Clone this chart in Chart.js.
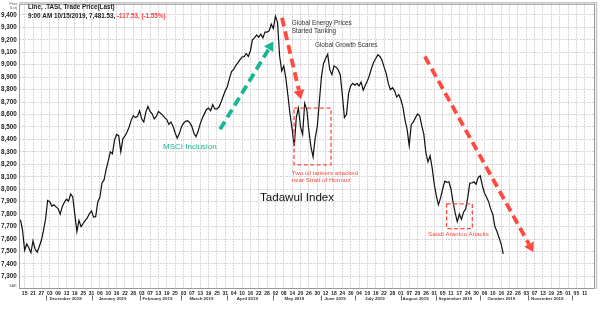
<!DOCTYPE html>
<html><head><meta charset="utf-8">
<script src="https://cdn.jsdelivr.net/npm/chart.js@4.4.1/dist/chart.umd.min.js"></script>
<style>html,body{margin:0;padding:0;background:#fff;}canvas{display:block;}</style>
</head><body>
<canvas id="c" width="608" height="326"></canvas>
<script>
// ---- DATA ----
// TASI daily close, one value per trading day, starting ~13 Nov 2018, ending 15 Oct 2019
const closes = [
7755,7670,7510,7560,7530,7490,7585,7520,7495,7540,
7590,7665,7760,7910,7900,7865,7875,7858,7845,7800,
7860,7895,7920,7905,7962,7940,7800,7660,7750,7700,
7725,7750,7770,7805,7825,7776,7780,7900,7935,8050,
8075,8160,8228,8300,8285,8395,8440,8430,8300,8405,
8428,8460,8500,8555,8590,8575,8585,8630,8565,8540,
8620,8665,8625,8605,8565,8585,8625,8610,8595,8575,
8560,8520,8540,8505,8454,8410,8445,8500,8530,8545,
8550,8535,8505,8450,8422,8465,8525,8570,8605,8640,
8652,8630,8680,8645,8645,8660,8700,8747,8790,8825,
8890,8945,8962,8992,9015,9039,9062,9065,9090,9066,
9110,9200,9215,9239,9220,9245,9215,9262,9262,9272,
9325,9290,9390,9340,9070,8950,8990,8890,8750,8600,
8480,8345,8580,8650,8500,8440,8690,8640,8470,8340,
8260,8410,8500,8700,8900,9010,9050,9084,8960,8920,
8990,8980,8960,8920,8760,8575,8600,8770,8830,8850,
8835,8850,8830,8860,8795,8835,8870,8915,8973,9020,
9050,9080,9066,9035,8980,8930,8850,8800,8815,8790,
8740,8760,8720,8660,8555,8480,8350,8520,8540,8575,
8605,8590,8510,8440,8290,8220,8270,8170,8040,7945,
7875,7930,8000,8065,8055,8060,8000,7895,7810,7740,
7800,7760,7815,7840,7930,8050,8050,8060,8040,8095,
8108,8030,7970,7935,7900,7840,7800,7700,7660,7610,
7560,7481.53
];
// x-axis day labels, one every 4 trading days
const dayTickLabels = ['15','21','27','03','09','13','19','25','31','06','10','16','22','28','03','07','13','19','25','03','07','13','19','25','31','04','10','16','22','28','02','08','14','20','26','30','12','18','24','30','04','10','16','22','28','01','07','20','26','01','05','11','17','24','30','06','10','16','22','28','03','07','13','19','25','01','05','11'];
const firstTickIndex = 2;
const tickEvery = 4;
const monthNames = ['December 2018','January 2019','February 2019','March 2019','April 2019','May 2019','June 2019','July 2019','August 2019','September 2019','October 2019','November 2019'];
const monthBoundaryIdx = [12,34,57,77,99,121,144,160,182,199,220,243,264];
const yTickValues = [7300,7400,7500,7600,7700,7800,7900,8000,8100,8200,8300,8400,8500,8600,8700,8800,8900,9000,9100,9200,9300,9400];
const headerLine1 = 'Line, .TASI, Trade Price(Last)';
const headerLine2a = '9:00 AM 10/15/2019, 7,481.53, ';
const headerLine2b = '-117.53, (-1.55%)';

const FONT = '"Liberation Sans", Arial, Helvetica, sans-serif';
Chart.defaults.font.family = FONT;

const points = closes.map((v, i) => ({x: i, y: v}));

function drawArrow(ctx, x1, y1, x2, y2, color, width, dash, headLen, headW) {
  const a = Math.atan2(y2 - y1, x2 - x1);
  const bx = x2 - headLen * Math.cos(a), by = y2 - headLen * Math.sin(a);
  ctx.save();
  ctx.strokeStyle = color; ctx.lineWidth = width; ctx.setLineDash(dash); ctx.lineCap = 'butt';
  ctx.beginPath(); ctx.moveTo(x1, y1); ctx.lineTo(bx, by); ctx.stroke();
  ctx.setLineDash([]); ctx.fillStyle = color;
  ctx.beginPath();
  ctx.moveTo(x2, y2);
  ctx.lineTo(bx + headW * Math.sin(a), by - headW * Math.cos(a));
  ctx.lineTo(bx - headW * Math.sin(a), by + headW * Math.cos(a));
  ctx.closePath(); ctx.fill();
  ctx.restore();
}

const annotate = {
  id: 'annotate',
  afterDraw(chart) {
    const ctx = chart.ctx, xs = chart.scales.x, ys = chart.scales.y, ca = chart.chartArea;
    const P = (i, v) => [xs.getPixelForValue(i), ys.getPixelForValue(v)];
    ctx.save();
    // frame
    ctx.strokeStyle = '#9a9a9a'; ctx.lineWidth = 1; ctx.setLineDash([]);
    ctx.strokeRect(ca.left + 0.5, ca.top + 0.5, ca.right - ca.left - 1, ca.bottom - ca.top - 1);
    ctx.strokeStyle = '#c8c8c8'; ctx.lineWidth = 1.5;
    ctx.beginPath(); ctx.moveTo(ca.left, ca.top - 1); ctx.lineTo(ca.right + 1.5, ca.top - 1); ctx.lineTo(ca.right + 1.5, ca.bottom); ctx.stroke();

    // header
    ctx.textBaseline = 'middle'; ctx.textAlign = 'left';
    ctx.font = 'bold 6.3px ' + FONT; ctx.fillStyle = '#222';
    ctx.fillText(headerLine1, 28, 7.5);
    ctx.fillText(headerLine2a, 28, 15.8);
    const w = ctx.measureText(headerLine2a).width;
    ctx.fillStyle = '#ff3b3b';
    ctx.fillText(headerLine2b, 28 + w, 15.8);

    // tiny axis captions
    ctx.font = '3.6px ' + FONT; ctx.fillStyle = '#555'; ctx.textAlign = 'center';
    ctx.fillText('Price', 13.5, 3.5);
    ctx.fillText('(Lst)', 13.5, 8);
    ctx.fillText('SAR', 13, 286);

    // month row
    ctx.font = 'bold 4.4px ' + FONT; ctx.fillStyle = '#333'; ctx.textAlign = 'center';
    monthNames.forEach((m, k) => {
      const xm = (xs.getPixelForValue(monthBoundaryIdx[k]) + xs.getPixelForValue(monthBoundaryIdx[k + 1])) / 2 - 3;
      ctx.fillText(m, xm, 298.5);
    });
    ctx.strokeStyle = '#444'; ctx.lineWidth = 0.8;
    monthBoundaryIdx.forEach(b => {
      const xb = Math.round(xs.getPixelForValue(b)) + 0.5;
      ctx.beginPath(); ctx.moveTo(xb, 295.5); ctx.lineTo(xb, 300.5); ctx.stroke();
    });

    // dashed boxes
    ctx.strokeStyle = '#ff4a3d'; ctx.lineWidth = 1.3; ctx.setLineDash([4, 2.5]);
    let [bx1, by1] = P(130.9, 8651), [bx2, by2] = P(148.6, 8196);
    ctx.strokeRect(bx1, by1, bx2 - bx1, by2 - by1);
    [bx1, by1] = P(203.9, 7883); [bx2, by2] = P(216.2, 7683);
    ctx.strokeRect(bx1, by1, bx2 - bx1, by2 - by1);
    ctx.setLineDash([]);

    // arrows
    let a = P(95.5, 8481), b = P(121.0, 9186);
    drawArrow(ctx, a[0], a[1], b[0], b[1], '#19b596', 3.8, [9, 5], 9, 5.5);
    a = P(125.1, 9377); b = P(134.2, 8723);
    drawArrow(ctx, a[0], a[1], b[0], b[1], '#ff4a3d', 3.8, [9, 5], 9, 5.5);
    a = P(193.5, 9066); b = P(245.4, 7496);
    drawArrow(ctx, a[0], a[1], b[0], b[1], '#ff4a3d', 3.8, [9, 5], 9, 5.5);

    // texts
    ctx.textAlign = 'left'; ctx.textBaseline = 'middle';
    ctx.font = '6.4px ' + FONT; ctx.fillStyle = '#333';
    let t = P(129.8, 9332); ctx.fillText('Global Energy Prices', t[0], t[1]);
    ctx.fillText('Started Tanking', t[0], t[1] + 7.7);
    t = P(140.9, 9153); ctx.fillText('Global Growth Scares', t[0], t[1]);
    ctx.font = '8px ' + FONT; ctx.fillStyle = '#19b596';
    t = P(68.2, 8342); ctx.fillText('MSCI Inclusion', t[0], t[1]);
    ctx.font = '11.6px ' + FONT; ctx.fillStyle = '#111';
    t = P(114.6, 7935); ctx.fillText('Tadawul Index', t[0], t[1]);
    ctx.font = '6.2px ' + FONT; ctx.fillStyle = '#ff4a3d';
    t = P(129.8, 8130); ctx.fillText('Two oil tankers attacked', t[0], t[1]);
    ctx.fillText('near Strait of Hormuz', t[0], t[1] + 7.7);
    t = P(195.0, 7635); ctx.fillText('Saudi Aramco Attacks', t[0], t[1]);
    ctx.restore();
  }
};

new Chart(document.getElementById('c'), {
  type: 'line',
  data: { datasets: [{ data: points, borderColor: '#111', borderWidth: 1.2, pointRadius: 0, tension: 0, fill: false }] },
  options: {
    responsive: false, animation: false, devicePixelRatio: 1,
    layout: { padding: { left: 1, right: 13, top: 2, bottom: 0 } },
    plugins: { legend: { display: false }, tooltip: { enabled: false }, title: { display: false } },
    scales: {
      x: {
        type: 'linear', min: -0.7, max: 274.9,
        afterBuildTicks: s => { s.ticks = dayTickLabels.map((_, k) => ({ value: firstTickIndex + k * tickEvery })); },
        afterFit: s => { s.height = 37; },
        ticks: { autoSkip: false, maxRotation: 0, minRotation: 0, padding: 1.5, font: { size: 5, weight: 'bold' }, color: '#222',
                 callback: (v, k) => dayTickLabels[k] },
        grid: { color: '#d6d6d6', lineWidth: 1, drawTicks: false },
        border: { display: false, dash: [2, 1] }
      },
      y: {
        type: 'linear', min: 7199, max: 9489, position: 'left',
        afterBuildTicks: s => { s.ticks = yTickValues.map(v => ({ value: v })); },
        afterFit: s => { s.width = 18; },
        ticks: { crossAlign: 'far', padding: 0, font: { size: 6.3, weight: 'bold' }, color: '#222',
                 callback: v => v.toLocaleString('en-US') },
        grid: { color: '#d6d6d6', lineWidth: 1, drawTicks: false },
        border: { display: false, dash: [2, 1] }
      }
    }
  },
  plugins: [annotate]
});
</script>
</body></html>
